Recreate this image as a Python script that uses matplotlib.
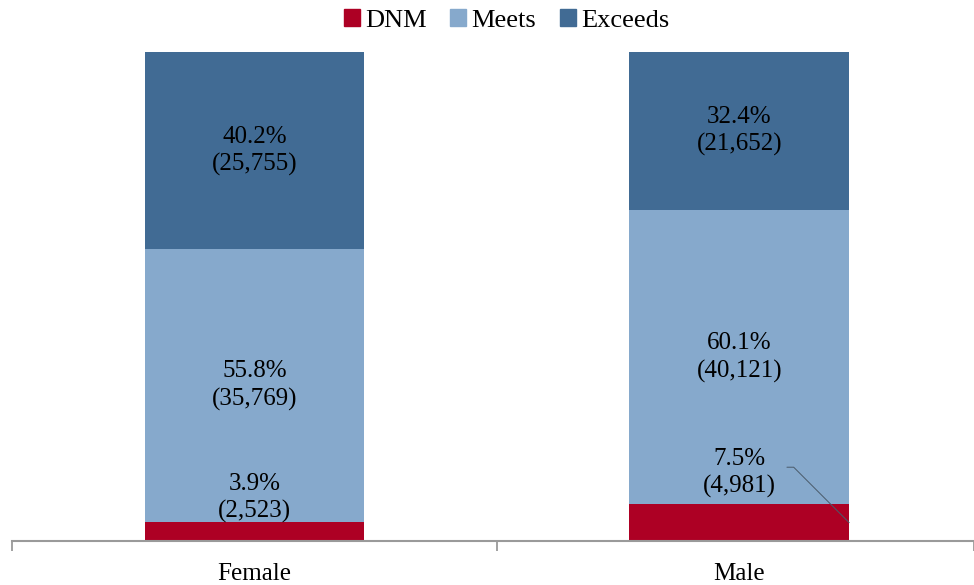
import matplotlib
matplotlib.use("Agg")
import matplotlib.pyplot as plt
from matplotlib.patches import Patch

plt.rcParams["font.family"] = ["Liberation Serif", "DejaVu Serif"]

# Datos
categories = ["Female", "Male"]
levels = ["DNM", "Meets", "Exceeds"]
pct = {
    "DNM": [3.9, 7.5],
    "Meets": [55.8, 60.1],
    "Exceeds": [40.2, 32.4],
}
counts = {
    "DNM": ["2,523", "4,981"],
    "Meets": ["35,769", "40,121"],
    "Exceeds": ["25,755", "21,652"],
}
colors = {"DNM": "#AD0024", "Meets": "#86A9CC", "Exceeds": "#416B94"}

fig = plt.figure(figsize=(9.74, 5.85), dpi=100)
ax = fig.add_axes([12 / 974, 1 - 541 / 585, 1 - 12 / 974, (541 - 52) / 585])

x = list(range(len(categories)))
width = 0.453
bottom = [0.0] * len(categories)
fs = 18
lsp = 1.3

for lev in levels:
    vals = pct[lev]
    ax.bar(x, vals, width, bottom=bottom, color=colors[lev], label=lev)
    for i, v in enumerate(vals):
        txt = f"{v}%\n({counts[lev][i]})"
        if lev == "DNM":
            if i == 0:
                ax.annotate(txt, (x[i], bottom[i] + v), xytext=(0, -1),
                            textcoords="offset points", ha="center", va="bottom",
                            fontsize=fs, linespacing=lsp)
            else:
                ax.annotate(txt, xy=(x[i] + width / 2, bottom[i] + v / 2),
                            xytext=(x[i], bottom[i] + v + 1.2),
                            ha="center", va="bottom", fontsize=fs, linespacing=lsp,
                            arrowprops=dict(arrowstyle="-", color="#4a5a6a", lw=0.7,
                                            relpos=(1.0, 0.62), shrinkA=6, shrinkB=0,
                                            connectionstyle="angle,angleA=0,angleB=-45,rad=0"))
        else:
            ax.text(x[i], bottom[i] + v / 2, txt, ha="center", va="center",
                    fontsize=fs, linespacing=lsp)
        bottom[i] += v

ax.set_ylim(0, 100)
ax.set_xlim(-0.5, 1.484)
ax.set_xticks([-0.5, 0.5, 1.484])
ax.set_xticklabels([])
ax.set_xticks(x, minor=True)
ax.set_xticklabels(categories, minor=True, fontsize=fs)
ax.tick_params(axis="x", which="major", direction="out", length=7.5, width=1.3,
               color="#9a9a9a")
ax.tick_params(axis="x", which="minor", length=0, pad=16)
ax.set_yticks([])
for s in ["left", "right", "top"]:
    ax.spines[s].set_visible(False)
ax.spines["bottom"].set_color("#9a9a9a")
ax.spines["bottom"].set_linewidth(1.5)

handles = [Patch(color=colors[l]) for l in levels]
fig.legend(handles, levels, loc="center", bbox_to_anchor=(0.52, 0.965), ncol=3,
           frameon=False, fontsize=19, handlelength=0.6, handleheight=0.6,
           handletextpad=0.2, columnspacing=0.9)

fig.savefig("out.png", dpi=100)
